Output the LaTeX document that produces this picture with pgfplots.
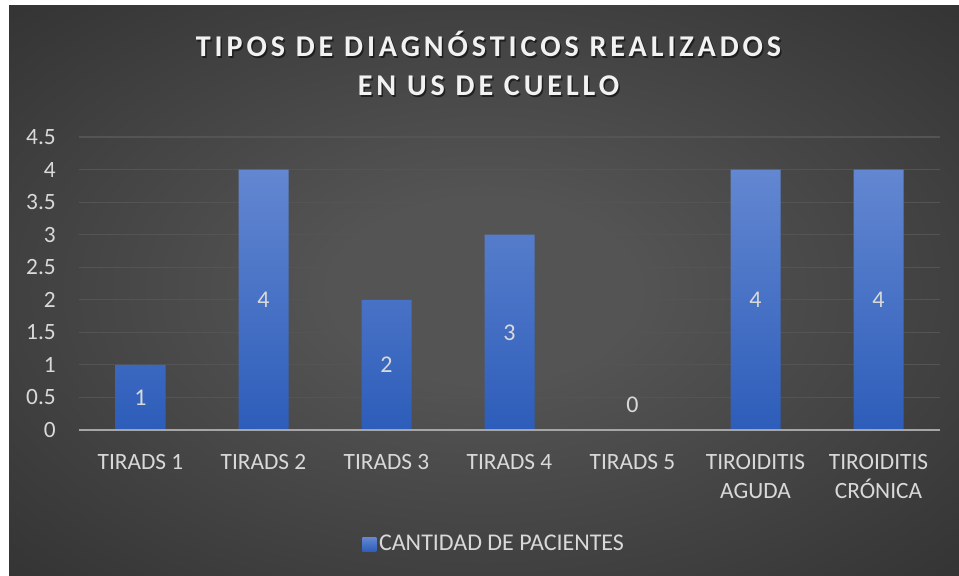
\documentclass[border=0pt]{standalone}
\usepackage{fontspec}
\setmainfont{Carlito}
\usepackage{pgfplots}
\pgfplotsset{compat=1.18}
\definecolor{bgc}{RGB}{84,84,84}
\definecolor{bgm}{RGB}{56,56,56}
\definecolor{bge}{RGB}{36,36,36}
\definecolor{bartop}{RGB}{99,135,209}
\definecolor{barbot}{RGB}{45,93,186}
\definecolor{gridc}{RGB}{84,84,84}
\definecolor{axisc}{RGB}{166,166,166}
\definecolor{txt}{RGB}{217,217,217}
\definecolor{titlec}{RGB}{242,242,242}
\pgfdeclareradialshading{bgrad}{\pgfpoint{0bp}{0bp}}{color(0bp)=(bgc); color(8bp)=(bgc); color(32bp)=(bgm); color(50bp)=(bge); color(75bp)=(bge)}
\newfontfamily\titlefont[LetterSpace=13]{Carlito}
\begin{document}
\begin{tikzpicture}[x=0.75pt,y=0.75pt]
\useasboundingbox (0,0) rectangle (959,575);
\fill[white] (0,0) rectangle (959,575);
\shade[shading=bgrad] (9,0) rectangle (959,569);
% title
\foreach \t/\yy in {{TIPOS DE DIAGNÓSTICOS REALIZADOS}/518,{EN US DE CUELLO}/479}{
  \node[anchor=base, inner sep=0pt, text=black, opacity=0.55] at (490,\yy-1.5) {\titlefont\bfseries\fontsize{22.6}{27}\selectfont \t};
  \node[anchor=base, inner sep=0pt, text=titlec] at (488.5,\yy) {\titlefont\bfseries\fontsize{22.6}{27}\selectfont \t};
}
\begin{axis}[
  at={(59.25pt,108.75pt)}, anchor=south west,
  width=645.75pt, height=219.75pt, scale only axis,
  xmin=-0.5, xmax=6.5, ymin=0, ymax=4.5,
  ytick={0,0.5,1,1.5,2,2.5,3,3.5,4,4.5},
  xtick={0,1,2,3,4,5,6},
  xticklabels={TIRADS 1,TIRADS 2,TIRADS 3,TIRADS 4,TIRADS 5,{TIROIDITIS\\AGUDA},{TIROIDITIS\\CRÓNICA}},
  axis line style={draw=none},
  major tick style={draw=none},
  ymajorgrids, grid style={draw=gridc, line width=0.9pt},
  /pgf/number format/assume math mode=true,
  yticklabel style={font=\fontsize{17.5}{20}\selectfont, text=txt, anchor=east, inner sep=0pt, xshift=-17.25pt},
  xticklabel style={font=\fontsize{17.5}{21.75}\selectfont, text=txt, align=center, anchor=north, inner sep=0pt, yshift=-18pt},
  legend style={at={(0.4826,-0.389)}, anchor=center, draw=none, fill=none, font=\fontsize{18}{21}\selectfont, text=txt, inner sep=0pt, legend cell align=left},
  clip=false,
]
\addplot[ybar, bar width=37.5pt, draw=none, top color=bartop, bottom color=barbot,
  legend image code/.code={\shade[top color=bartop, bottom color=barbot] (0pt,-5.6pt) rectangle (10.5pt,4.9pt);}]
  coordinates {(0,1) (1,4) (2,2) (3,3) (4,0) (5,4) (6,4)};
\addlegendentry{CANTIDAD DE PACIENTES}
\addplot[draw=none, mark=none, forget plot, nodes near coords, point meta=explicit symbolic,
  nodes near coords style={font=\fontsize{18}{21}\selectfont, text=txt, anchor=center, inner sep=0pt}]
  coordinates {(0,0.5)[1] (1,2)[4] (2,1)[2] (3,1.5)[3] (4,0.38)[0] (5,2)[4] (6,2)[4]};
\draw[axisc, line width=1.5pt] (axis cs:-0.5,0) -- (axis cs:6.5,0);
\end{axis}
\end{tikzpicture}
\end{document}
